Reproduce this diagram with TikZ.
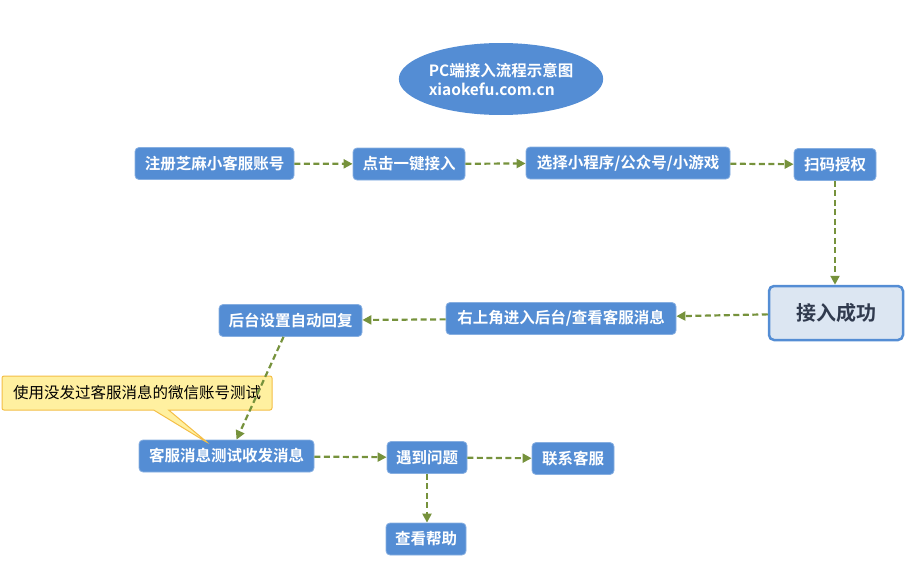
\documentclass[tikz,border=0pt]{standalone}
\usepackage{fontspec}
\setmainfont{Noto Sans CJK SC}
\newfontfamily\cjkb{Noto Sans CJK SC Bold}
\usetikzlibrary{arrows.meta,shapes.geometric,shapes.callouts}
\definecolor{boxblue}{RGB}{84,141,212}
\definecolor{okfill}{RGB}{220,230,242}
\definecolor{oktext}{RGB}{48,58,78}
\definecolor{arrowgreen}{RGB}{118,146,60}
\definecolor{notefill}{RGB}{255,240,160}
\definecolor{noteline}{RGB}{244,190,70}
\tikzset{
  stepbox/.style={rectangle, rounded corners=4pt, fill=boxblue, draw=boxblue!70!white, line width=0.8pt,
    text=white, font=\cjkb\fontsize{15.5}{18}\selectfont, inner sep=0pt, minimum height=32pt},
  okbox/.style={rectangle, rounded corners=5pt, fill=okfill, draw=boxblue, line width=2.5pt,
    text=oktext, font=\cjkb\fontsize{20}{24}\selectfont, minimum width=134pt, minimum height=54pt},
  titleell/.style={ellipse, fill=boxblue, text=white, font=\cjkb\fontsize{15.5}{19}\selectfont,
    minimum width=186pt, minimum height=72pt, inner sep=0pt, align=left},
  notebox/.style={rectangle callout, fill=notefill, draw=noteline, line width=1pt, rounded corners=2pt,
    font=\fontsize{15.5}{18}\selectfont, text=black, minimum width=270pt, minimum height=34pt, inner sep=0pt,
    callout pointer width=15pt},
  flow/.style={draw=arrowgreen, line width=2.2pt, dash pattern=on 6pt off 3.5pt,
    -{Triangle[length=9pt,width=9pt]}},
}
\begin{document}
\begin{tikzpicture}[x=1pt,y=-1pt]
\useasboundingbox (0,0) rectangle (924,570);
\node[titleell] (title) at (501,79) {PC端接入流程示意图\\xiaokefu.com.cn};
\node[stepbox, minimum width=159pt] (a1) at (214.5,163.5) {注册芝麻小客服账号};
\node[stepbox, minimum width=112pt] (a2) at (409,164) {点击一键接入};
\node[stepbox, minimum width=204pt] (a3) at (628,163) {选择小程序/公众号/小游戏};
\node[stepbox, minimum width=82pt] (a4) at (835,164.5) {扫码授权};
\node[okbox] (ok) at (836,313) {接入成功};
\node[stepbox, minimum width=230pt] (b1) at (561,318.5) {右上角进入后台/查看客服消息};
\node[stepbox, minimum width=143pt] (b2) at (290.5,320.5) {后台设置自动回复};
\node[stepbox, minimum width=175pt] (c1) at (226.5,456) {客服消息测试收发消息};
\node[stepbox, minimum width=80pt] (d1) at (427,457.5) {遇到问题};
\node[stepbox, minimum width=82pt] (d2) at (573,458.5) {联系客服};
\node[stepbox, minimum width=80pt] (d3) at (426,539) {查看帮助};
\node[notebox, callout absolute pointer={(208,443)}] (note) at (137,393) {使用没发过客服消息的微信账号测试};
\draw[flow] (a1) -- (a2);
\draw[flow] (a2) -- (a3);
\draw[flow] (a3) -- (a4);
\draw[flow] (a4.south) -- (a4.south |- ok.north);
\draw[flow] (ok) -- (b1);
\draw[flow] (b1) -- (b2);
\draw[flow] ([xshift=-7pt]b2.south) -- ([xshift=10pt]c1.north);
\draw[flow] (c1) -- (d1);
\draw[flow] (d1) -- (d2);
\draw[flow] (d1.south) -- (d1.south |- d3.north);
\end{tikzpicture}
\end{document}
